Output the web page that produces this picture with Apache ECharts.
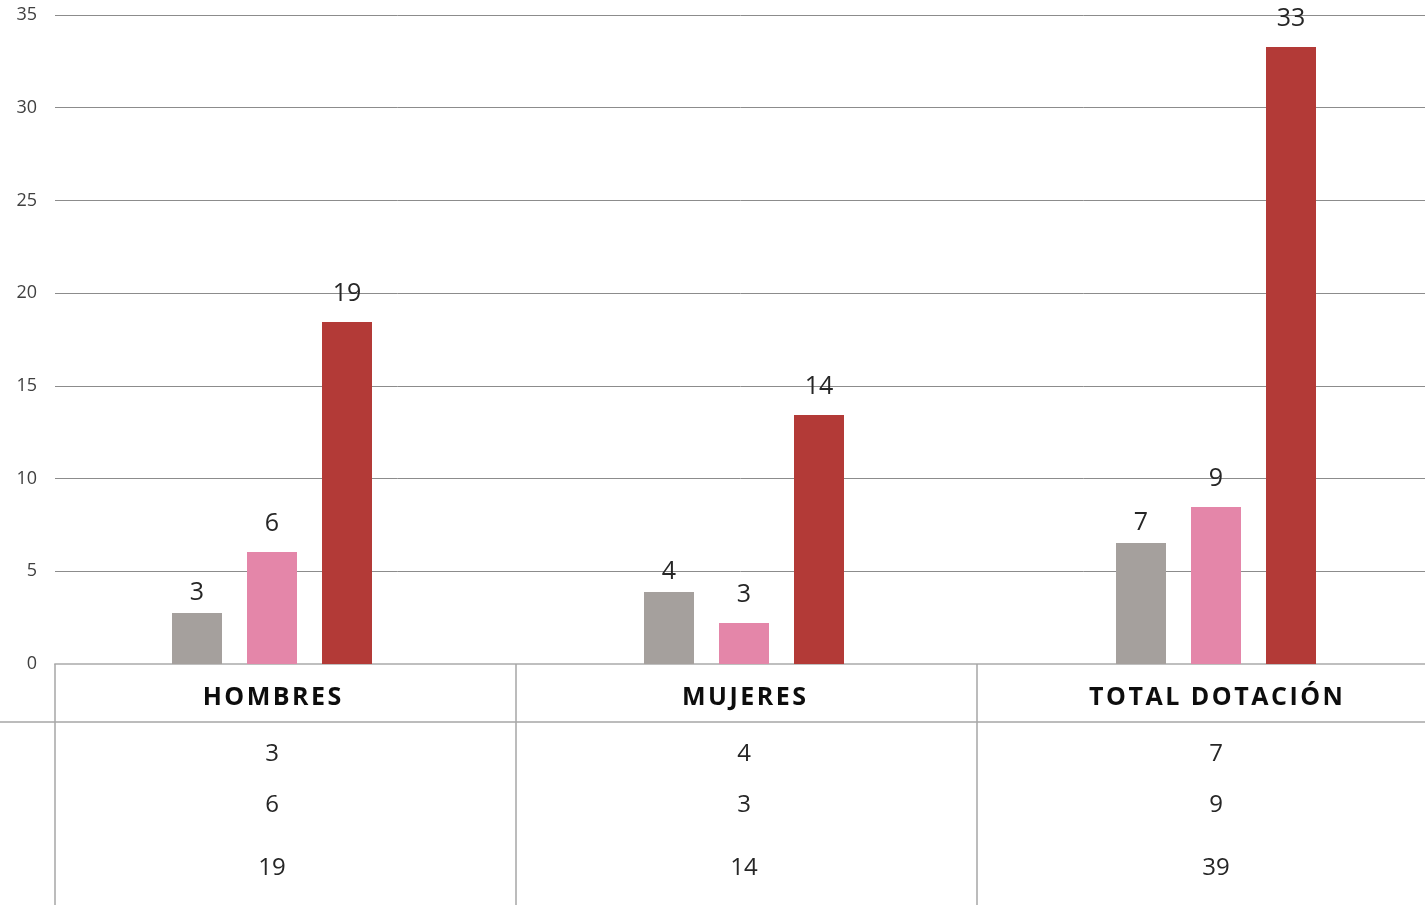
<!DOCTYPE html>
<html>
<head>
<meta charset="utf-8">
<script src="https://cdn.jsdelivr.net/npm/echarts@6/dist/echarts.min.js"></script>
<style>
  html, body { margin: 0; padding: 0; background: #fff; }
  #chart { width: 1425px; height: 905px; }
</style>
</head>
<body>
<div id="chart"></div>
<script>
const categories = ["HOMBRES", "MUJERES", "TOTAL DOTACIÓN"];

// bar heights as drawn
const grayValues = [2.75, 3.88, 6.53];
const pinkValues = [6.04, 2.21, 8.47];
const redValues = [18.45, 13.43, 33.28];

// labels printed above the bars
const grayLabels = ["3", "4", "7"];
const pinkLabels = ["6", "3", "9"];
const redLabels = ["19", "14", "33"];

// data table under the chart
const tableRow1 = ["3", "4", "7"];
const tableRow2 = ["6", "3", "9"];
const tableRow3 = ["19", "14", "39"];

const font = "'Open Sans', 'Noto Sans', sans-serif";
const lineGray = "#a6a6a6";

const chart = echarts.init(document.getElementById("chart"));

// spread the letters a little, like the header row of the table
const spaced = (s) =>
  s.split(" ").map((w) => w.split("").join("\u200A")).join("\u200A \u200A");

const barSeries = (name, values, labels, color, dist) => ({
  name: name,
  type: "bar",
  xAxisIndex: 1,
  yAxisIndex: 1,
  barWidth: 50,
  barGap: "50%",
  data: values,
  itemStyle: { color: color },
  label: {
    show: true,
    position: "top",
    distance: dist,
    fontFamily: font,
    fontSize: 25,
    color: "#262626",
    formatter: (p) => labels[p.dataIndex],
  },
});

const tableAxis = (row, margin) => ({
  type: "category",
  gridIndex: 1,
  position: "bottom",
  data: row,
  axisLine: { show: false },
  axisTick: { show: false },
  axisLabel: {
    interval: 0,
    margin: margin,
    fontFamily: font,
    fontSize: 24,
    color: "#262626",
  },
});

const option = {
  backgroundColor: "#fff",
  animation: false,
  grid: [
    { left: 55, width: 1383, top: 15, bottom: 241, outerBoundsMode: "none" },
    { left: 36, width: 1416, top: 15, bottom: 241, outerBoundsMode: "none" },
  ],
  xAxis: [
    {
      type: "category",
      gridIndex: 0,
      data: categories,
      axisLine: { lineStyle: { color: "#bfbfbf", width: 2 } },
      axisTick: {
        show: true,
        alignWithLabel: false,
        interval: 0,
        length: 241,
        lineStyle: { color: lineGray, width: 1.5 },
      },
      axisLabel: { show: false },
    },
    {
      type: "category",
      gridIndex: 1,
      data: categories,
      axisLine: { show: false },
      axisTick: { show: false },
      axisLabel: {
        interval: 0,
        margin: 21,
        fontFamily: font,
        fontSize: 25,
        fontWeight: "bold",
        color: "#0d0d0d",
        formatter: (v) => spaced(v),
      },
    },
    tableAxis(tableRow1, 78),
    tableAxis(tableRow2, 129),
    tableAxis(tableRow3, 192),
  ],
  yAxis: [
    {
      type: "value",
      gridIndex: 0,
      min: 0,
      max: 35,
      interval: 5,
      axisLine: { show: false },
      axisTick: { show: false },
      axisLabel: {
        margin: 18,
        fontFamily: font,
        fontSize: 18,
        color: "#404040",
      },
      splitLine: { lineStyle: { color: "#8c8c8c", width: 1 } },
    },
    {
      type: "value",
      gridIndex: 1,
      min: 0,
      max: 35,
      interval: 5,
      show: false,
    },
  ],
  graphic: [
    {
      type: "line",
      shape: { x1: 0, y1: 722, x2: 1425, y2: 722 },
      style: { stroke: lineGray, lineWidth: 1.5 },
    },
  ],
  series: [
    barSeries("gray", grayValues, grayLabels, "#a5a09d", 8),
    barSeries("pink", pinkValues, pinkLabels, "#e486a9", 16),
    barSeries("red", redValues, redLabels, "#b33a37", 16),
  ],
};

chart.setOption(option);
</script>
</body>
</html>
